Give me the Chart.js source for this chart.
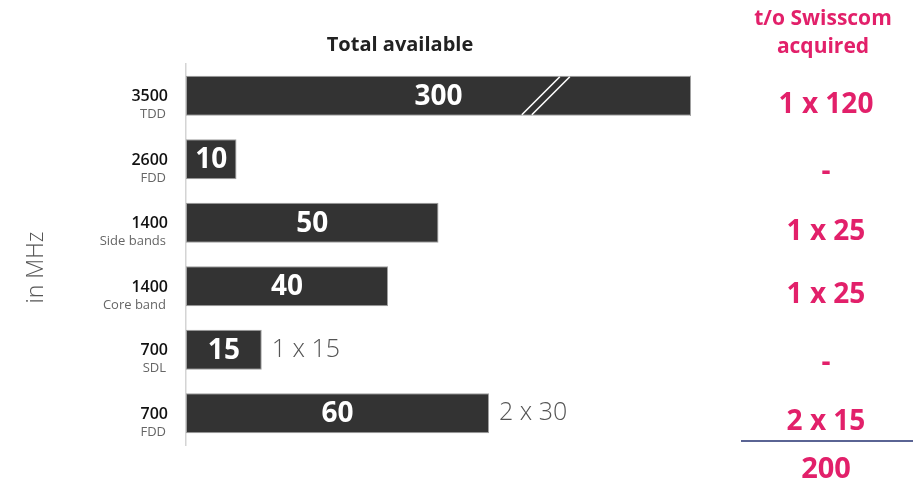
<!DOCTYPE html>
<html>
<head>
<meta charset="utf-8">
<script src="https://cdn.jsdelivr.net/npm/chart.js@4/dist/chart.umd.min.js"></script>
<style>
html,body{margin:0;padding:0;background:#fff;}
#wrap{width:913px;height:483px;position:relative;}
</style>
</head>
<body>
<div id="wrap"><canvas id="c" width="913" height="483"></canvas></div>
<script>
// ---- data ----
const bandNames   = ['3500', '2600', '1400', '1400', '700', '700'];
const bandTypes   = ['TDD', 'FDD', 'Side bands', 'Core band', 'SDL', 'FDD'];
const totalMHz    = [300, 10, 50, 40, 15, 60];
const blockNotes  = ['', '', '', '', '1 x 15', '2 x 30'];
const acquired    = ['1 x 120', '-', '1 x 25', '1 x 25', '-', '2 x 15'];
const acquiredSum = '200';
const axisMax     = 100;

const PINK = '#e2206a';
const FONT = "'Open Sans', 'Noto Sans', sans-serif";

const overlay = {
  id: 'overlay',
  afterDatasetsDraw(chart) {
    const ctx = chart.ctx;
    const xs = chart.scales.x;
    const area = chart.chartArea;
    const meta = chart.getDatasetMeta(0);
    ctx.save();
    meta.data.forEach((bar, i) => {
      const v = totalMHz[i];
      const end = Math.min(bar.x, area.right);
      const start = xs.getPixelForValue(0);
      const h = bar.height;
      if (v > axisMax) {
        ctx.strokeStyle = '#a0a0a0';
        ctx.lineWidth = 1;
        ctx.beginPath();
        ctx.moveTo(area.right - 0.5, bar.y - h / 2);
        ctx.lineTo(area.right - 0.5, bar.y + h / 2);
        ctx.stroke();
        const bx = start + (area.right - start) * 0.665;
        ctx.strokeStyle = '#ffffff';
        ctx.lineWidth = 1.6;
        [0, 10].forEach(off => {
          ctx.beginPath();
          ctx.moveTo(bx + off, bar.y + h / 2 - 1);
          ctx.lineTo(bx + off + 38, bar.y - h / 2 + 1);
          ctx.stroke();
        });
      }
      ctx.fillStyle = '#ffffff';
      ctx.font = 'bold 28px ' + FONT;
      ctx.textAlign = 'center';
      ctx.textBaseline = 'middle';
      ctx.fillText(String(v), (start + end) / 2, bar.y + 1);
      if (blockNotes[i]) {
        ctx.fillStyle = '#555555';
        ctx.font = '300 25px ' + FONT;
        ctx.textAlign = 'left';
        ctx.fillText(blockNotes[i], end + 10, bar.y);
      }
      // category labels
      ctx.textAlign = 'right';
      ctx.fillStyle = '#111111';
      ctx.font = '600 16px ' + FONT;
      ctx.fillText(bandNames[i], area.left - 18, bar.y + 1);
      ctx.fillStyle = '#666666';
      ctx.font = '13px ' + FONT;
      ctx.fillText(bandTypes[i], area.left - 20, bar.y + 19);
      // acquired column
      ctx.textAlign = 'center';
      ctx.fillStyle = PINK;
      ctx.font = 'bold 28px ' + FONT;
      ctx.fillText(acquired[i], 826, bar.y + (acquired[i] === '-' ? 13 : 9));
    });
    // title
    ctx.fillStyle = '#222222';
    ctx.font = 'bold 20px ' + FONT;
    ctx.textAlign = 'center';
    ctx.fillText('Total available', 400, 45);
    // right header
    ctx.fillStyle = PINK;
    ctx.font = 'bold 21px ' + FONT;
    ctx.fillText('t/o Swisscom', 823, 19);
    ctx.fillText('acquired', 823, 47);
    // sum line
    ctx.strokeStyle = '#5a6494';
    ctx.lineWidth = 2;
    ctx.beginPath();
    ctx.moveTo(741, 441);
    ctx.lineTo(913, 441);
    ctx.stroke();
    ctx.fillStyle = PINK;
    ctx.font = 'bold 29px ' + FONT;
    ctx.fillText(acquiredSum, 826, 470);
    // y title
    ctx.save();
    ctx.translate(36, (area.top + area.bottom) / 2 + 13);
    ctx.rotate(-Math.PI / 2);
    ctx.fillStyle = '#555555';
    ctx.font = '300 23px ' + FONT;
    ctx.fillText('in MHz', 0, 0);
    ctx.restore();
    ctx.restore();
  }
};

new Chart(document.getElementById('c'), {
  type: 'bar',
  data: {
    labels: bandNames.map((n, i) => n + ' ' + bandTypes[i]),
    datasets: [{
      data: totalMHz,
      backgroundColor: '#333333',
      borderColor: '#a0a0a0',
      borderWidth: 1,
      borderSkipped: false,
      categoryPercentage: 1,
      barPercentage: 0.63,
      clip: 0
    }]
  },
  options: {
    indexAxis: 'y',
    responsive: false,
    animation: false,
    layout: { padding: { left: 186, right: 222, top: 64, bottom: 38 } },
    plugins: { legend: { display: false }, tooltip: { enabled: false }, title: { display: false } },
    scales: {
      x: { display: false, min: 0, max: axisMax },
      y: {
        display: true,
        afterFit: s => { s.width = 0; },
        ticks: { display: false },
        grid: { display: false },
        border: { display: true, color: '#d4d4d4', width: 1.5 }
      }
    }
  },
  plugins: [overlay]
});
</script>
</body>
</html>
